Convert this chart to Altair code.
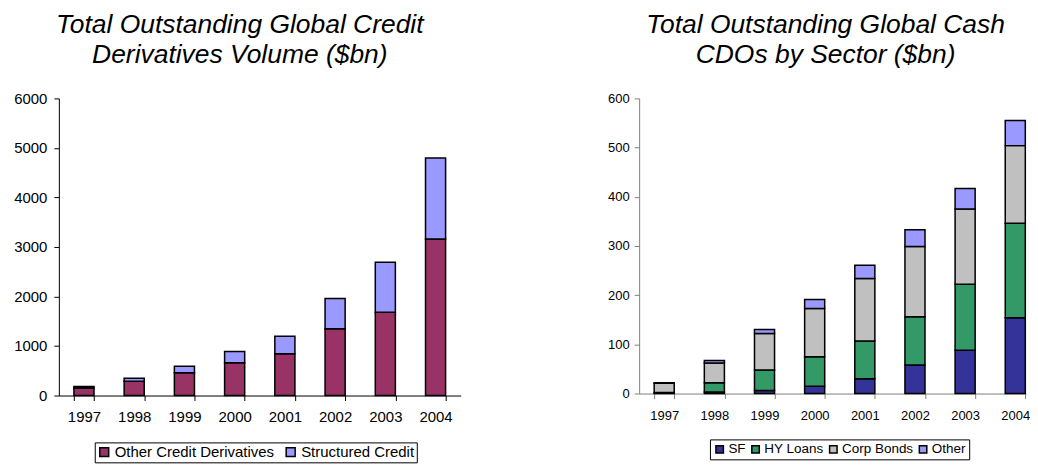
import altair as alt
import pandas as pd

years = ["1997", "1998", "1999", "2000", "2001", "2002", "2003", "2004"]

# Left chart: credit derivatives ($bn)
other_credit = [150, 290, 460, 660, 845, 1350, 1680, 3160]
structured = [30, 60, 130, 230, 350, 610, 1010, 1635]
left_series = ["Other Credit Derivatives", "Structured Credit"]
left_colors = ["#993366", "#9999FF"]

# Right chart: cash CDOs by sector ($bn)
sf = [1, 3, 6, 15, 30, 58, 88, 154]
hy = [1, 19, 42, 60, 77, 98, 134, 192]
corp = [19, 40, 74, 98, 127, 143, 153, 158]
other = [1, 5, 8, 18, 27, 34, 42, 51]
right_series = ["SF", "HY Loans", "Corp Bonds", "Other"]
right_colors = ["#333399", "#339966", "#C0C0C0", "#9999FF"]

rows_l = []
for i, y in enumerate(years):
    for k, (s, vals) in enumerate(zip(left_series, [other_credit, structured])):
        rows_l.append({"year": y, "series": s, "value": vals[i], "idx": k})
df_l = pd.DataFrame(rows_l)

rows_r = []
for i, y in enumerate(years):
    for k, (s, vals) in enumerate(zip(right_series, [sf, hy, corp, other])):
        rows_r.append({"year": y, "series": s, "value": vals[i], "idx": k})
df_r = pd.DataFrame(rows_r)

FONT = "Liberation Sans"

left = alt.Chart(df_l).mark_bar(stroke="black", strokeWidth=1.5).encode(
    x=alt.X("year:N", sort=years, title=None,
            scale=alt.Scale(paddingInner=0.6, paddingOuter=0.3),
            axis=alt.Axis(labelAngle=0, tickBand="extent", labelFontSize=15,
                          labelPadding=9, domainColor="black", tickColor="black",
                          labelColor="black", tickSize=5)),
    y=alt.Y("value:Q", title=None, stack="zero",
            scale=alt.Scale(domain=[0, 6000]),
            axis=alt.Axis(values=[0, 1000, 2000, 3000, 4000, 5000, 6000], grid=False,
                          format="d", labelFontSize=15, labelPadding=7,
                          domainColor="black", tickColor="black",
                          labelColor="black", tickSize=5)),
    color=alt.Color("series:N", scale=alt.Scale(domain=left_series, range=left_colors),
                    legend=alt.Legend(title=None, orient="none", legendX=36, legendY=345,
                                      direction="horizontal", labelFontSize=15,
                                      labelLimit=400,
                                      symbolType="square", symbolSize=81,
                                      symbolStrokeColor="black", symbolStrokeWidth=1.5,
                                      strokeColor="black", padding=2, labelOffset=3,
                                      columnPadding=8, labelColor="black")),
    order=alt.Order("idx:Q", sort="ascending"),
).properties(
    width=403, height=298,
    title=alt.TitleParams(["Total Outstanding Global Credit", "Derivatives Volume ($bn)"],
                          fontSize=26.5, fontStyle="italic", fontWeight="normal",
                          font=FONT, anchor="middle", dx=-20, offset=23,
                          lineHeight=30, color="black"),
)

right = alt.Chart(df_r).mark_bar(stroke="black", strokeWidth=1.5).encode(
    x=alt.X("year:N", sort=years, title=None,
            scale=alt.Scale(paddingInner=0.6, paddingOuter=0.157, align=0.955),
            axis=alt.Axis(labelAngle=0, tickBand="extent", labelFontSize=13,
                          labelPadding=11, domainColor="#808080", tickColor="#808080",
                          labelColor="black", tickSize=5)),
    y=alt.Y("value:Q", title=None, stack="zero",
            scale=alt.Scale(domain=[0, 600]),
            axis=alt.Axis(values=[0, 100, 200, 300, 400, 500, 600], grid=False,
                          format="d", labelFontSize=13, labelPadding=5,
                          domainColor="#808080", tickColor="#808080",
                          labelColor="black", tickSize=5)),
    color=alt.Color("series:N", scale=alt.Scale(domain=right_series, range=right_colors),
                    legend=alt.Legend(title=None, orient="none", legendX=71, legendY=342,
                                      direction="horizontal", labelFontSize=13.5,
                                      labelLimit=400,
                                      symbolType="square", symbolSize=56,
                                      symbolStrokeColor="black", symbolStrokeWidth=1.5,
                                      strokeColor="black", padding=3, labelOffset=2,
                                      columnPadding=3, labelColor="black")),
    order=alt.Order("idx:Q", sort="ascending"),
).properties(
    width=388, height=296,
    title=alt.TitleParams(["Total Outstanding Global Cash", "CDOs by Sector ($bn)"],
                          fontSize=26.5, fontStyle="italic", fontWeight="normal",
                          font=FONT, anchor="middle", dx=-7, offset=24,
                          lineHeight=30, color="black"),
)

chart = alt.hconcat(left, right, spacing=147).resolve_scale(color="independent").properties(
    padding={"top": 3, "left": 5, "right": 0, "bottom": 0}
).configure(
    font=FONT
).configure_view(stroke=None).configure_axis(labelFont=FONT).configure_legend(
    labelFont=FONT
).configure_concat(spacing=147)

chart.save("out.html", embed_options={"renderer": "svg", "actions": False})
